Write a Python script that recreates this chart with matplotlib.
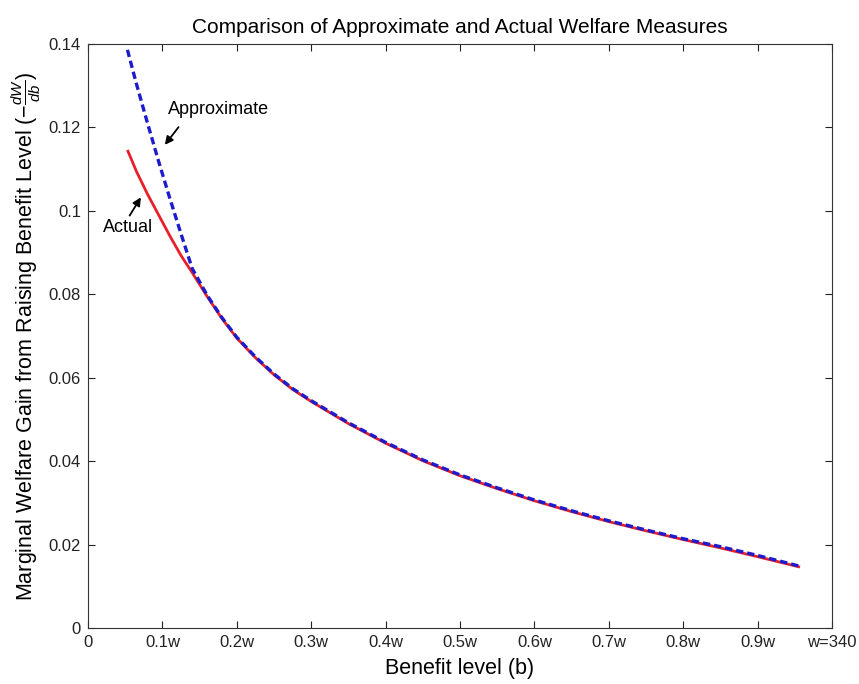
import matplotlib
matplotlib.use("Agg")
import matplotlib.pyplot as plt

plt.rcParams['font.family'] = ['Liberation Sans', 'DejaVu Sans']
plt.rcParams['mathtext.fontset'] = 'custom'
plt.rcParams['mathtext.rm'] = 'Liberation Sans'
plt.rcParams['mathtext.it'] = 'Liberation Sans:italic'

# Data (benefit level as fraction of w)
actual_x = [0.053, 0.065, 0.08, 0.095, 0.11, 0.125, 0.14, 0.16, 0.18, 0.2, 0.225, 0.25,
            0.275, 0.3, 0.35, 0.4, 0.45, 0.5, 0.55, 0.6, 0.65, 0.7, 0.75, 0.8, 0.85, 0.9, 0.957]
actual_y = [0.1146, 0.1095, 0.1040, 0.0990, 0.0940, 0.0893, 0.0852, 0.0795, 0.0742, 0.0695,
            0.0648, 0.0607, 0.0572, 0.0543, 0.0490, 0.0443, 0.0401, 0.0365, 0.0334, 0.0305,
            0.0279, 0.0255, 0.0233, 0.0212, 0.0192, 0.0171, 0.0146]

approx_x = [0.053, 0.065, 0.08, 0.095, 0.11, 0.125, 0.14, 0.16, 0.18, 0.2, 0.225, 0.25,
            0.275, 0.3, 0.35, 0.4, 0.45, 0.5, 0.55, 0.6, 0.65, 0.7, 0.75, 0.8, 0.85, 0.9, 0.957]
approx_y = [0.1386, 0.1305, 0.1210, 0.1118, 0.1030, 0.0945, 0.0862, 0.0798, 0.0744, 0.0697,
            0.0650, 0.0609, 0.0574, 0.0545, 0.0492, 0.0445, 0.0403, 0.0367, 0.0336, 0.0307,
            0.0281, 0.0257, 0.0235, 0.0214, 0.0195, 0.0174, 0.0148]

x_ticks = [0, 0.1, 0.2, 0.3, 0.4, 0.5, 0.6, 0.7, 0.8, 0.9, 1.0]
x_ticklabels = ['0', '0.1w', '0.2w', '0.3w', '0.4w', '0.5w', '0.6w', '0.7w', '0.8w', '0.9w', 'w=340']
y_ticks = [0, 0.02, 0.04, 0.06, 0.08, 0.10, 0.12, 0.14]
y_ticklabels = ['0', '0.02', '0.04', '0.06', '0.08', '0.1', '0.12', '0.14']

fig = plt.figure(figsize=(8.59, 6.84), dpi=100)
ax = fig.add_axes([88/859, 1-628/684, (832-88)/859, (628-44)/684])

ax.plot(actual_x, actual_y, color='#e8202a', lw=2.0, solid_capstyle='butt')
ax.plot(approx_x, approx_y, color='#1c1ccc', lw=2.4, linestyle=(0, (2.2, 1.2)))

ax.set_xlim(0, 1)
ax.set_ylim(0, 0.14)
ax.set_xticks(x_ticks)
ax.set_xticklabels(x_ticklabels)
ax.set_yticks(y_ticks)
ax.set_yticklabels(y_ticklabels)
ax.tick_params(direction='in', top=True, right=True, length=5, width=0.8,
               labelsize=12, colors='#222222', pad=5)
for s in ax.spines.values():
    s.set_color('#333333')
    s.set_linewidth(0.8)

ax.set_title('Comparison of Approximate and Actual Welfare Measures', fontsize=15, pad=8)
ax.set_xlabel('Benefit level (b)', fontsize=15.5, labelpad=6)
ax.set_ylabel(r'Marginal Welfare Gain from Raising Benefit Level ($-\frac{dW}{db}$)',
              fontsize=15.5, labelpad=4)

# Annotations
ax.text(0.175, 0.1242, 'Approximate', fontsize=13, ha='center', va='center')
ax.annotate('', xy=(0.101, 0.1153), xytext=(0.124, 0.1206),
            arrowprops=dict(arrowstyle='-|>', color='black', lw=1.3, mutation_scale=12))
ax.text(0.054, 0.0959, 'Actual', fontsize=13, ha='center', va='center')
ax.annotate('', xy=(0.073, 0.1038), xytext=(0.054, 0.0983),
            arrowprops=dict(arrowstyle='-|>', color='black', lw=1.3, mutation_scale=12))

fig.savefig('out.png', dpi=100)
